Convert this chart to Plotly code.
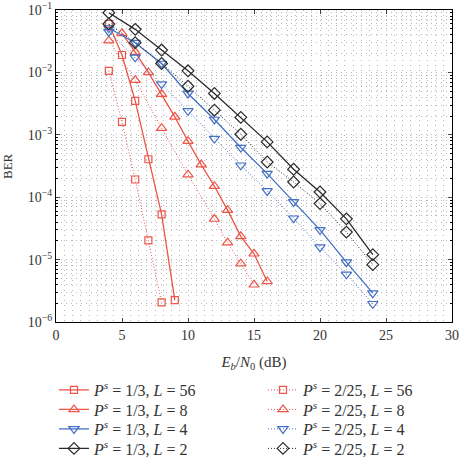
import plotly.graph_objects as go

# ---- data ----
x_s56 = [4, 5, 6, 7, 8, 9]
y_s56 = [0.0596, 0.019, 3.5e-3, 4.06e-4, 5.3e-5, 2.24e-6]
x_d56 = [4, 5, 6, 7, 8]
y_d56 = [0.0106, 1.61e-3, 1.92e-4, 2.04e-5, 2.06e-6]

x_s8 = [5, 6, 7, 8, 9, 10, 11, 12, 13, 14, 15, 16]
y_s8 = [0.0423, 0.0212, 0.0100, 4.5e-3, 1.94e-3, 7.9e-4, 3.33e-4, 1.5e-4, 6.2e-5, 2.36e-5, 1.24e-5, 4.47e-6]
x_d8 = [4, 6, 8, 10, 12, 13, 14, 15]
y_d8 = [0.0322, 7.5e-3, 1.28e-3, 2.3e-4, 4.47e-5, 1.87e-5, 8.6e-6, 3.95e-6]

x_even = [4, 6, 8, 10, 12, 14, 16, 18, 20, 22, 24]
y_s4 = [0.0514, 0.0299, 0.0139, 4.6e-3, 1.76e-3, 6.25e-4, 2.39e-4, 8.4e-5, 3.0e-5, 9.1e-6, 2.9e-6]
y_d4 = [0.0449, 0.0174, 6.5e-3, 2.42e-3, 8.7e-4, 3.25e-4, 1.26e-4, 4.6e-5, 1.58e-5, 5.8e-6, 1.96e-6]
y_s2 = [0.0905, 0.049, 0.0228, 0.0106, 4.6e-3, 1.9e-3, 7.7e-4, 2.8e-4, 1.21e-4, 4.5e-5, 1.2e-5]
y_d2 = [0.0596, 0.030, 0.0139, 6.0e-3, 2.48e-3, 1.02e-3, 3.67e-4, 1.75e-4, 7.9e-5, 2.76e-5, 8.3e-6]

names_s = ["1/3, <i>L</i> = 56", "1/3, <i>L</i> = 8", "1/3, <i>L</i> = 4", "1/3, <i>L</i> = 2"]
names_d = ["2/25, <i>L</i> = 56", "2/25, <i>L</i> = 8", "2/25, <i>L</i> = 4", "2/25, <i>L</i> = 2"]

x_ticks = [0, 5, 10, 15, 20, 25, 30]
y_ticks = [1e-6, 1e-5, 1e-4, 1e-3, 1e-2, 1e-1]
y_ticktext = ["10<sup>\u22126</sup>", "10<sup>\u22125</sup>", "10<sup>\u22124</sup>",
              "10<sup>\u22123</sup>", "10<sup>\u22122</sup>", "10<sup>\u22121</sup>"]

RED = "#EC5548"
BLUE = "#4470C4"
BLACK = "#2a2a2a"
FONT = "Liberation Serif"
PS = "<i>P</i><sup><i>s</i></sup> = "

series = [
    (x_s56, y_s56, x_d56, y_d56, RED, "square-open", 7),
    (x_s8, y_s8, x_d8, y_d8, RED, "triangle-up-open", 9),
    (x_even, y_s4, x_even, y_d4, BLUE, "triangle-down-open", 9),
    (x_even, y_s2, x_even, y_d2, BLACK, "diamond-open", 9),
]

# figure geometry (pixels)
W, H = 459, 459
ML, MR, MT, MB = 56, 7, 10, 137
PW, PH = W - ML - MR, H - MT - MB
row_centers = [388, 407.5, 427, 446.5]
col_x = [54, 263]


def px_to_paper_x(px):
    return (px - ML) / PW


fig = go.Figure()
legends = {}
for i, (xs, ys, xd, yd, col, sym, sz) in enumerate(series):
    for c, (xx, yy, nm, dash, lw) in enumerate([
        (xs, ys, names_s[i], "solid", 1.3),
        (xd, yd, names_d[i], "1px,2px", 1.0),
    ]):
        k = i + 4 * c
        lid = "legend" if k == 0 else "legend%d" % (k + 1)
        fig.add_trace(go.Scatter(
            x=xx, y=yy, mode="lines+markers", legend=lid,
            name=PS + nm,
            line=dict(color=col, width=lw, dash=dash),
            marker=dict(symbol=sym, size=sz, color=col, line=dict(width=1.2, color=col)),
        ))
        legends[lid] = dict(
            orientation="h", xref="container", yref="container",
            xanchor="left", yanchor="top",
            x=col_x[c] / W, y=1 - (row_centers[i] - 15) / H,
            font=dict(family=FONT, size=16, color="#333333"),
            itemwidth=30, bgcolor="rgba(0,0,0,0)",
        )

# minor grid positions
x_minor = [k * 0.625 for k in range(0, 49)]
y_minor = []
for e in range(-6, -1):
    for m in range(2, 10):
        y_minor.append(m * 10 ** e)

grid_col = "#b8b8b8"
grid_dash = "1px,4px"
fig.update_layout(
    width=W, height=H,
    margin=dict(l=ML, r=MR, t=MT, b=MB),
    paper_bgcolor="white", plot_bgcolor="white",
    font=dict(family=FONT, size=14, color="#333333"),
    showlegend=True,
    xaxis=dict(
        range=[0, 30], tickvals=x_ticks, ticks="inside", ticklen=4,
        showline=True, linecolor="black", linewidth=1.2, mirror="ticks",
        showgrid=True, gridcolor=grid_col, griddash=grid_dash, gridwidth=1,
        zeroline=False, automargin=False,
        tickfont=dict(family=FONT, size=14, color="#333333"),
        title=dict(text="<i>E<sub>b</sub></i>/<i>N</i><sub>0</sub> (dB)",
                   font=dict(family=FONT, size=15, color="#333333"), standoff=14),
        minor=dict(tickvals=x_minor, showgrid=True, gridcolor=grid_col,
                   griddash=grid_dash, gridwidth=1, ticks=""),
    ),
    yaxis=dict(
        type="log", range=[-6, -1], tickvals=y_ticks, ticktext=y_ticktext,
        ticks="inside", ticklen=4,
        showline=True, linecolor="black", linewidth=1.2, mirror="ticks",
        showgrid=True, gridcolor=grid_col, griddash=grid_dash, gridwidth=1,
        zeroline=False, automargin=False,
        tickfont=dict(family=FONT, size=14, color="#333333"),
        minor=dict(tickvals=y_minor, showgrid=True, gridcolor=grid_col,
                   griddash=grid_dash, gridwidth=1, ticks="inside", ticklen=2,
                   tickcolor="black"),
    ),
    annotations=[dict(
        text="BER", textangle=-90, xref="paper", yref="paper",
        x=px_to_paper_x(7), y=0.5, xanchor="center", yanchor="middle",
        showarrow=False, font=dict(family=FONT, size=13, color="#333333"),
    )],
    **legends,
)

fig.write_html("out.html")
